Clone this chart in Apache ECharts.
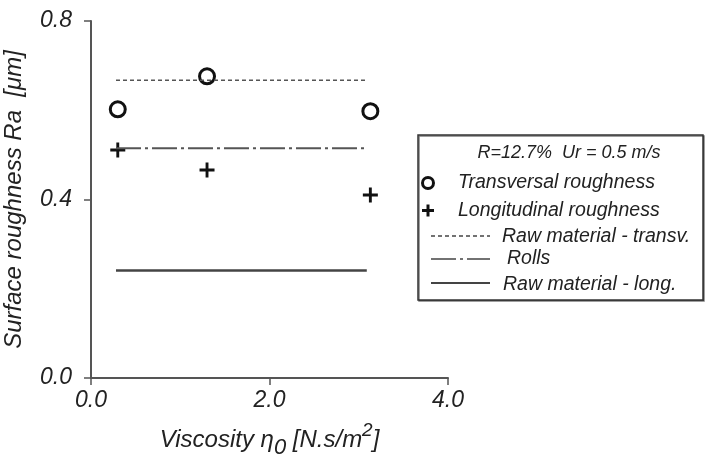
<!DOCTYPE html>
<html>
<head>
<meta charset="utf-8">
<script src="https://cdn.jsdelivr.net/npm/echarts@6/dist/echarts.min.js"></script>
<style>
  html, body { margin: 0; padding: 0; background: #fff; }
  #chart { width: 707px; height: 463px; }
</style>
</head>
<body>
<div id="chart"></div>
<script>
// measured points
const viscosity = [0.3, 1.3, 3.13];
const transversal = [0.602, 0.676, 0.598];
const longitudinal = [0.511, 0.466, 0.41];

// reference levels (horizontal lines)
const lineSpan = [0.28, 3.09];
const rawTransv = 0.667;
const rolls = 0.515;
const rawLong = 0.241;

const legendTitle = 'R=12.7%  Ur = 0.5 m/s';
const legendNames = ['Transversal roughness', 'Longitudinal roughness', 'Raw material - transv.', 'Rolls', 'Raw material - long.'];

const FONT = '"Liberation Sans", Arial, sans-serif';
const INK = '#222';
const PLUS = 'path://M10.5,0h5v10.5h10.5v5h-10.5v10.5h-5v-10.5h-10.5v-5h10.5z';

const chart = echarts.init(document.getElementById('chart'));

const level = (y) => lineSpan.map(x => [x, y]);

const txt = (x, y, s, size, align) => ({
  type: 'text', x: x, y: y,
  style: { text: s, font: 'italic ' + size + 'px ' + FONT, fill: INK, align: align || 'left', verticalAlign: 'middle' }
});
const seg = (y, dash, w) => ({
  type: 'line', shape: { x1: 431, y1: y, x2: 490, y2: y },
  style: { stroke: '#444', lineWidth: w, lineDash: dash }
});

const option = {
  animation: false,
  backgroundColor: '#fff',
  grid: { left: 91, right: 259, top: 21, bottom: 85, outerBoundsMode: 'none' },
  xAxis: {
    type: 'value', min: 0, max: 4, interval: 2,
    splitLine: { show: false },
    axisLine: { lineStyle: { color: '#555', width: 2 } },
    axisTick: { length: 7, lineStyle: { color: '#555', width: 1.5 } },
    axisLabel: { margin: 11, color: INK, fontFamily: FONT, fontStyle: 'italic', fontSize: 23, formatter: v => v.toFixed(1) },
    name: '{a|Viscosity }{b|η}{s|0}{a| [N.s/m}{p|2}{a|]}',
    nameLocation: 'middle', nameGap: 43,
    nameTextStyle: {
      rich: {
        a: { fontFamily: FONT, fontStyle: 'italic', fontSize: 24, color: INK, lineHeight: 38 },
        b: { fontFamily: FONT, fontStyle: 'italic', fontSize: 24, color: INK, lineHeight: 38 },
        s: { fontFamily: FONT, fontStyle: 'italic', fontSize: 22, color: INK, lineHeight: 38, verticalAlign: 'bottom' },
        p: { fontFamily: FONT, fontStyle: 'italic', fontSize: 19, color: INK, lineHeight: 38, verticalAlign: 'top' }
      }
    }
  },
  yAxis: {
    type: 'value', min: 0, max: 0.8, interval: 0.4,
    splitLine: { show: false },
    axisLine: { lineStyle: { color: '#555', width: 2 } },
    axisTick: { length: 7, lineStyle: { color: '#555', width: 1.5 } },
    axisLabel: { margin: 19, color: INK, fontFamily: FONT, fontStyle: 'italic', fontSize: 23, formatter: v => v.toFixed(1) },
    name: 'Surface roughness Ra  [μm]',
    nameLocation: 'middle', nameGap: 65,
    nameTextStyle: { color: INK, fontFamily: FONT, fontStyle: 'italic', fontSize: 24 }
  },
  series: [
    {
      name: legendNames[0], type: 'scatter',
      data: viscosity.map((x, i) => [x, transversal[i]]),
      symbol: 'circle', symbolSize: 15,
      itemStyle: { color: 'transparent', borderColor: '#111', borderWidth: 3, opacity: 1 }
    },
    {
      name: legendNames[1], type: 'scatter',
      data: viscosity.map((x, i) => [x, longitudinal[i]]),
      symbol: PLUS, symbolSize: 15,
      itemStyle: { color: '#111', opacity: 1 }
    },
    {
      name: legendNames[2], type: 'line', data: level(rawTransv), symbol: 'none',
      lineStyle: { color: '#555', width: 1.5, type: [4, 3] }
    },
    {
      name: legendNames[3], type: 'line', data: level(rolls), symbol: 'none',
      lineStyle: { color: '#555', width: 2, type: [25, 4, 3, 4] }
    },
    {
      name: legendNames[4], type: 'line', data: level(rawLong), symbol: 'none',
      lineStyle: { color: '#444', width: 2.5 }
    }
  ],
  graphic: [
    {
      type: 'rect', shape: { x: 418, y: 135, width: 285, height: 165 },
      style: { fill: '#fff', stroke: '#333', lineWidth: 1.5, shadowColor: 'rgba(0,0,0,0.5)', shadowOffsetX: 1, shadowOffsetY: 1 }
    },
    txt(569, 153, legendTitle, 18, 'center'),
    { type: 'circle', shape: { cx: 428, cy: 183, r: 5.5 }, style: { fill: 'transparent', stroke: '#111', lineWidth: 3 } },
    txt(458, 183, legendNames[0], 19.5),
    { type: 'rect', shape: { x: 422, y: 209, width: 12, height: 3 }, style: { fill: '#111' } },
    { type: 'rect', shape: { x: 426.5, y: 204.5, width: 3, height: 12 }, style: { fill: '#111' } },
    txt(458, 211, legendNames[1], 19.5),
    seg(236, [4, 3], 1.5),
    txt(502, 237, legendNames[2], 19.5),
    seg(259, [25, 4, 3, 4], 1.5),
    txt(507, 259, legendNames[3], 19.5),
    seg(283, null, 2),
    txt(503, 285, legendNames[4], 19.5)
  ]
};

chart.setOption(option);
</script>
</body>
</html>
